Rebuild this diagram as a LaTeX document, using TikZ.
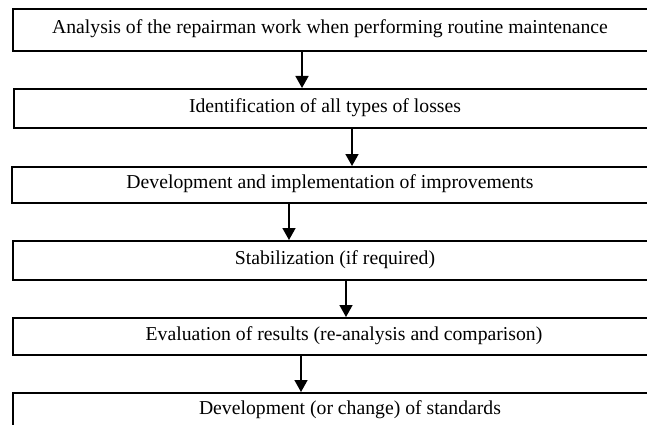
\documentclass[tikz,border=0pt]{standalone}
\usepackage{fontspec}
\setmainfont{Liberation Serif}
\usetikzlibrary{arrows.meta}

\begin{document}
\begin{tikzpicture}[x=1pt, y=-1pt]
    \tikzset{%
      box/.style={draw, line width=1.6pt, inner sep=0pt, anchor=north west,
        minimum width=720pt},
      txt/.style={font=\fontsize{19.7}{22}\selectfont, inner sep=0pt},
      arr/.style={line width=1.6pt, -{Triangle[length=12pt, width=13pt]}},
    }
    \path[use as bounding box, clip] (0,0) rectangle (647,425);
    % the right ends of the boxes run off the page
    \node[box, minimum height=42pt] (A) at (12,8) {};
    \node[txt] at (330,29) {Analysis of the repairman work when performing routine maintenance};

    \node[box, minimum height=39pt] (B) at (13,88) {};
    \node[txt] at (325,107.5) {Identification of all types of losses};

    \node[box, minimum height=36pt] (C) at (11,166) {};
    \node[txt] at (330,184) {Development and implementation of improvements};

    \node[box, minimum height=39pt] (D) at (12,240) {};
    \node[txt] at (335,259.5) {Stabilization (if required)};

    \node[box, minimum height=37pt] (E) at (12,317) {};
    \node[txt] at (344,335.5) {Evaluation of results (re-analysis and comparison)};

    \node[box, minimum height=60pt] (F) at (12,392) {};
    \node[txt] at (350,410) {Development (or change) of standards};

    % arrows between the steps
    \coordinate (a1) at (302,0);
    \coordinate (a2) at (352,0);
    \coordinate (a3) at (289,0);
    \coordinate (a4) at (346,0);
    \coordinate (a5) at (301,0);
    \draw [arr] (A.south -| a1) -- (B.north -| a1);
    \draw [arr] (B.south -| a2) -- (C.north -| a2);
    \draw [arr] (C.south -| a3) -- (D.north -| a3);
    \draw [arr] (D.south -| a4) -- (E.north -| a4);
    \draw [arr] (E.south -| a5) -- (F.north -| a5);
\end{tikzpicture}
\end{document}
